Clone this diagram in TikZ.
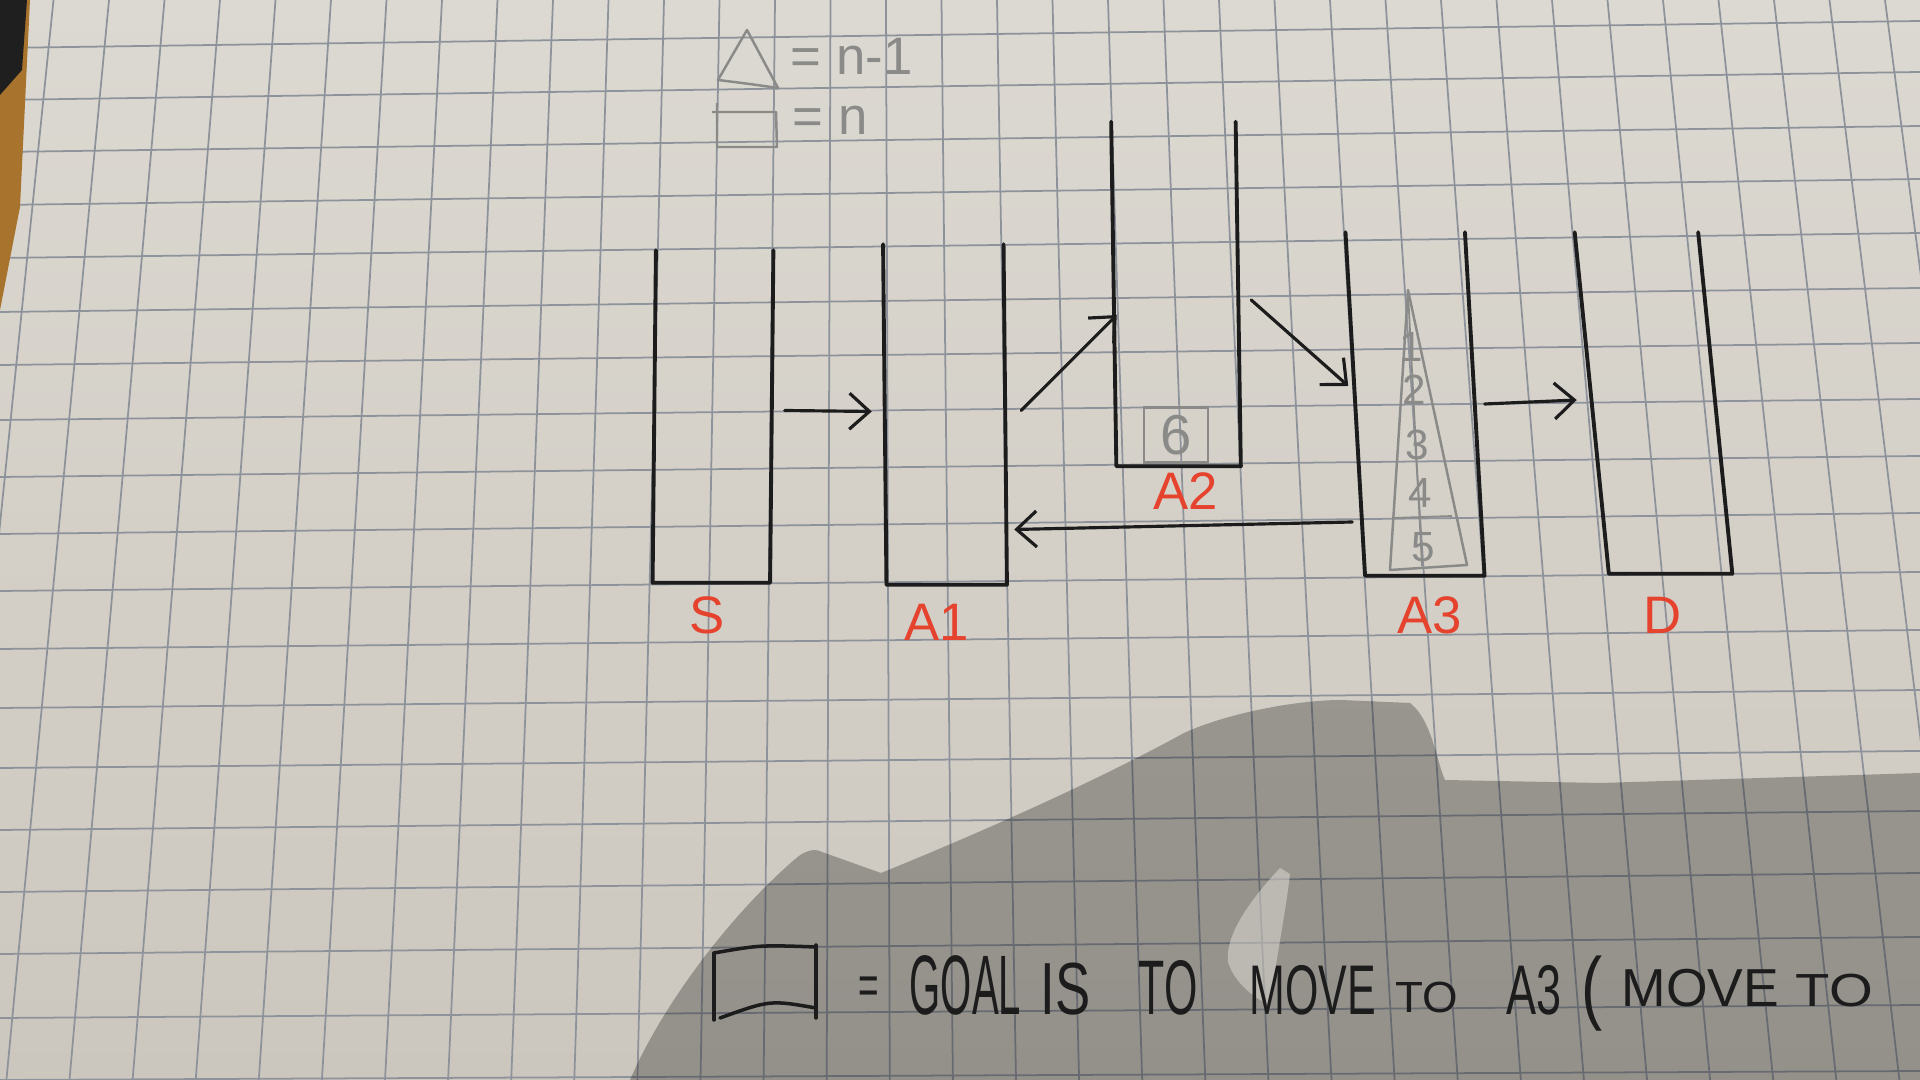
\documentclass[tikz,border=0pt]{standalone}
\usepackage{fontspec}
\setmainfont{Liberation Sans}
\usetikzlibrary{arrows.meta,calc,positioning}
\definecolor{paper}{HTML}{DCD9D2}
\definecolor{paperlow}{HTML}{CCC7BE}
\definecolor{rule}{HTML}{8E939B}
\definecolor{pen}{HTML}{1C1C1C}
\definecolor{marker}{HTML}{E5432E}
\definecolor{lead}{HTML}{8A8A88}
\definecolor{desk}{HTML}{A8732C}

\begin{document}
\begin{tikzpicture}[x=0.01cm,y=-0.01cm,
  rule/.style={draw=rule,line width=.5pt},
  wall/.style={pen,line width=1.1pt,line join=round,line cap=round},
  move/.style={pen,line width=.9pt,line cap=round,-{Straight Barb[length=2mm,width=3.6mm]}},
  col/.style={draw=none,inner sep=0pt},
  tag/.style={marker,inner sep=0pt,font=\fontsize{15}{18}\selectfont},
  penc/.style={lead,inner sep=0pt,font=\fontsize{12}{14}\selectfont},
  note/.style={pen,anchor=base west,inner sep=0pt,font=\fontsize{20}{24}\selectfont}]
\useasboundingbox (0,0) rectangle (1920,1080);
\clip (0,0) rectangle (1920,1080);

% ---------------- the squared sheet
\shade[top color=paper,bottom color=paperlow] (0,0) rectangle (1920,1080);
\foreach \yl/\yr in {48/21,100/72,152/126,205/179,258/233,312/288,365/343,
                     420/399,477/456,534/513,591/572,649/630,708/690,768/751,
                     830/811,892/873,954/937,1018/1005,1080/1071}
  \draw[rule] (0,\yl) -- (1920,\yr);
\foreach \k in {-19,...,18}
  \draw[rule] ({997+55.5*\k},0) -- ({1016+63.1*\k},1080);
\fill[desk] (0,0) -- (30,0) -- (20,207) -- (0,310) -- cycle;
\fill[black!88] (0,0) -- (27,0) -- (22,70) -- (0,95) -- cycle;

% ---------------- shadow of the hand
\fill[black,opacity=.27] (630,1080) .. controls (660,1010) and (725,920) .. (794,860)
  .. controls (805,850) and (815,848) .. (822,852) -- (881,873)
  .. controls (950,845) and (1080,790) .. (1184,733)
  .. controls (1230,712) and (1300,700) .. (1341,700) -- (1410,703)
  .. controls (1432,720) and (1436,760) .. (1445,780) -- (1601,783) -- (1920,773)
  -- (1920,1080) -- cycle;
\fill[paper,opacity=.55] (1280,868) .. controls (1250,900) and (1225,935) .. (1228,962)
  .. controls (1235,985) and (1258,1000) .. (1270,1005)
  .. controls (1276,960) and (1286,910) .. (1290,874) -- cycle;

% ---------------- key, top
\draw[lead,line width=.7pt,line join=round] (747,30) -- (778,88)
  .. controls (750,84) .. (718,80) -- cycle;
\draw[lead,line width=.7pt,line join=round] (717,103) -- (717,147) -- (777,147) -- (776,112) -- (712,112);
\node[penc,anchor=base west,font=\fontsize{15}{18}\selectfont] (tri-key) at (790,75) {= n-1};
\node[penc,anchor=base west,font=\fontsize{15}{18}\selectfont] (box-key) at (792,135) {= n};

% ---------------- the five pegs
\node[col,minimum width=1.16cm,minimum height=3.31cm,xslant=.01] (S) at (713,416.5) {};
\node[col,minimum width=1.19cm,minimum height=3.39cm,xslant=-.01] (A1) at (945,414.5) {};
\node[col,minimum width=1.23cm,minimum height=3.43cm,xslant=-.015] (A2) at (1176,294) {};
\node[col,minimum width=1.18cm,minimum height=3.42cm,xslant=-.057] (A3) at (1415,404) {};
\node[col,minimum width=1.22cm,minimum height=3.40cm,xslant=-.1] (D) at (1653.5,403) {};
\foreach \c in {S,A1,A2,A3,D}
  \draw[wall] (\c.north west) -- (\c.south west) -- (\c.south east) -- (\c.north east);

\node[tag] (S-tag) at (707,615) {S};
\node[tag] (A1-tag) at (937,622) {A1};
\node[tag] (A2-tag) at (1186,491) {A2};
\node[tag] (A3-tag) at (1430,615) {A3};
\node[tag] (D-tag) at (1663,615) {D};

% pencilled discs
\node[penc,draw=lead,line width=.7pt,minimum width=.64cm,minimum height=.55cm,
      font=\fontsize{16}{18}\selectfont] (six) at (1176,435) {6};
\draw[lead,line width=.7pt,line join=round] (1408,290) -- (1467,565) -- (1390,570) -- cycle;
\draw[lead,line width=.5pt] (1408,292) -- (1422,566);
\draw[lead,line width=.5pt] (1393,518) -- (1452,516);
\foreach \n/\y in {1/347,2/390,3/445,4/493,5/547}
  \node[penc] (disc\n) at ({1408+\n*3},\y) {\n};

% moves
\draw[move] ($(S.east)+(13,-6)$) -- ($(A1.west)+(-13,-3)$);
\draw[move] ($(A1.east)+(16,-4)$) -- ($(A2.west)+(3,21)$);
\draw[move] ($(A2.east)+(13,6)$) -- ($(A3.west)+(-7,-18)$);
\draw[move] ($(A3.east)+(10,0)$) -- ($(D.west)+(-15,-3)$);
\draw[move] ($(A3.west)+(-3,118)$) -- ($(A1.east)+(9,115)$);

% ---------------- goal line, bottom
\draw[wall,line width=1pt] (714,953) -- (714,1020);
\draw[wall,line width=1pt] (816,945) -- (816,1018);
\draw[wall,line width=1pt] (714,953) .. controls (760,945) .. (816,947);
\draw[wall,line width=1pt] (720,1018) .. controls (770,1000) .. (816,1008);
\foreach \w/\x/\y/\sx/\sy [count=\i] in {=/858/1005/.5/.8, GOAL/909/1015/.57/1.2,
    IS/1040/1015/.75/1.05, TO/1138/1015/.61/1.1, MOVE/1249/1015/.61/1,
    TO/1395/1013/.65/.62, A3/1506/1015/.64/1, {(}/1581/1015/.9/1.15,
    MOVE/1621/1007/.76/.76, TO/1795/1007/.8/.66}
  \node[note] (word\i) at (\x,\y) {\scalebox{\sx}[\sy]{\w}};
\end{tikzpicture}
\end{document}
